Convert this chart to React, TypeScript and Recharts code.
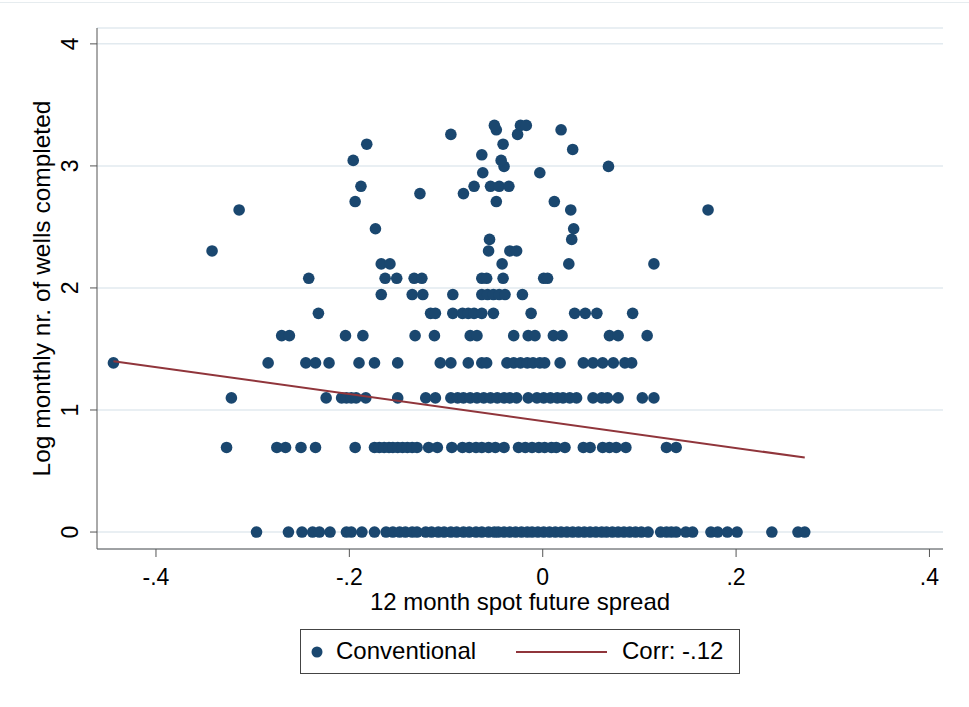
import { ScatterChart, Scatter, XAxis, YAxis, CartesianGrid } from 'recharts';

// log monthly nr. of wells completed (ln of the count) for each row of dots
const logLevels = [
  0, 0.693, 1.099, 1.386, 1.609, 1.792, 1.946, 2.079, 2.197, 2.303, 2.398, 2.485,
  2.639, 2.708, 2.773, 2.833, 2.944, 2.996, 3.045, 3.091, 3.135, 3.178, 3.258, 3.296, 3.332,
];

// 12 month spot future spread of each observation, one array per row above
const spread1 = [
  -0.296, -0.263, -0.249, -0.238, -0.231, -0.22, -0.203, -0.198, -0.187, -0.174, -0.162, -0.155,
  -0.148, -0.142, -0.135, -0.13, -0.121, -0.115, -0.108, -0.102, -0.095, -0.089, -0.082, -0.076,
  -0.069, -0.063, -0.056, -0.05, -0.046, -0.04, -0.034, -0.028, -0.022, -0.016, -0.011, -0.005,
  0.001, 0.007, 0.013, 0.019, 0.025, 0.031, 0.037, 0.043, 0.049, 0.055, 0.061, 0.066, 0.072,
  0.078, 0.084, 0.09, 0.096, 0.102, 0.109, 0.122, 0.128, 0.133, 0.138, 0.148, 0.155, 0.174,
  0.181, 0.191, 0.201, 0.237, 0.264, 0.271,
];
const spread2 = [
  -0.327, -0.275, -0.266, -0.25, -0.235, -0.194, -0.174, -0.169, -0.164, -0.159, -0.155, -0.15,
  -0.145, -0.14, -0.135, -0.13, -0.118, -0.109, -0.094, -0.083, -0.076, -0.069, -0.063, -0.056,
  -0.049, -0.04, -0.025, -0.018, -0.011, -0.004, 0.002, 0.009, 0.014, 0.023, 0.042, 0.049,
  0.062, 0.069, 0.076, 0.086, 0.128, 0.138,
];
const spread3 = [
  -0.322, -0.224, -0.208, -0.203, -0.198, -0.193, -0.183, -0.15, -0.121, -0.111, -0.095, -0.088,
  -0.082, -0.075, -0.068, -0.061, -0.054, -0.047, -0.04, -0.034, -0.027, -0.015, -0.006, 0.001,
  0.008, 0.015, 0.021, 0.028, 0.035, 0.052, 0.061, 0.067, 0.078, 0.103, 0.115,
];
const spread4 = [
  -0.444, -0.284, -0.245, -0.235, -0.221, -0.19, -0.174, -0.15, -0.106, -0.095, -0.077, -0.063,
  -0.058, -0.037, -0.03, -0.023, -0.016, -0.01, -0.003, 0.002, 0.018, 0.042, 0.052, 0.062,
  0.073, 0.085, 0.092,
];
const spread5 = [
  -0.27, -0.262, -0.204, -0.186, -0.132, -0.112, -0.075, -0.068, -0.03, -0.015, -0.008, 0.011,
  0.02, 0.069, 0.078, 0.108,
];
const spread6 = [
  -0.232, -0.116, -0.111, -0.093, -0.083, -0.077, -0.071, -0.063, -0.051, -0.012, 0.033, 0.044,
  0.056, 0.093,
];
const spread7 = [-0.167, -0.135, -0.124, -0.093, -0.063, -0.057, -0.051, -0.045, -0.039, -0.021];
const spread8 = [-0.242, -0.163, -0.151, -0.133, -0.125, -0.063, -0.058, -0.041, 0.001, 0.005];
const spread9 = [-0.167, -0.158, -0.042, 0.027, 0.115];
const spread10 = [-0.342, -0.056, -0.034, -0.027];
const spread11 = [-0.055, 0.03];
const spread12 = [-0.173, 0.032];
const spread14 = [-0.314, 0.029, 0.171];
const spread15 = [-0.194, -0.048, 0.012];
const spread16 = [-0.127, -0.082];
const spread17 = [-0.188, -0.071, -0.054, -0.045, -0.035];
const spread19 = [-0.062, -0.003];
const spread20 = [-0.04, 0.068];
const spread21 = [-0.196, -0.043];
const spread22 = [-0.063];
const spread23 = [0.031];
const spread24 = [-0.182, -0.041];
const spread26 = [-0.095, -0.026];
const spread27 = [-0.048, 0.019];
const spread28 = [-0.05, -0.023, -0.017];

const spreadRows = [
  spread1, spread2, spread3, spread4, spread5, spread6, spread7, spread8, spread9, spread10,
  spread11, spread12, spread14, spread15, spread16, spread17, spread19, spread20, spread21,
  spread22, spread23, spread24, spread26, spread27, spread28,
];

// linear fit end points
const fitSpread = [-0.444, 0.271];
const fitLog = [1.4, 0.61];

const xTicks = [-0.4, -0.2, 0, 0.2, 0.4];
const yTicks = [0, 1, 2, 3, 4];

const points = spreadRows.flatMap((row, i) => row.map((x) => ({ x, y: logLevels[i] })));
const fitData = fitSpread.map((x, i) => ({ x, y: fitLog[i] }));

const NAVY = '#1a476f';
const MAROON = '#90353b';
const FONT = '"Liberation Sans", Arial, sans-serif';
const AXIS = '#555';

// stata style: -.4, .2, 0
const stataNum = (v: number) => {
  if (v === 0) return '0';
  return (v < 0 ? '-' : '') + String(Math.abs(v)).replace(/^0/, '');
};

const Dot = (props: any) => <circle cx={props.cx} cy={props.cy} r={5.8} fill={NAVY} />;

const RotatedTick = (props: any) => {
  const { x, y, payload } = props;
  return (
    <text
      transform={`translate(${x - 10}, ${y}) rotate(-90)`}
      textAnchor="middle"
      fontSize={23}
      fontFamily={FONT}
      fill="#000"
    >
      {payload.value}
    </text>
  );
};

export default function App() {
  return (
    <div style={{ position: 'relative', width: 969, height: 707, background: '#fff' }}>
      <style>{`body{margin:0}`}</style>
      <div style={{ position: 'absolute', left: 0, top: 2, width: 969, height: 1, background: '#e6ecef' }} />
      <ScatterChart width={969} height={707} margin={{ top: 28, right: 26, left: 0, bottom: 98 }}>
        <CartesianGrid vertical={false} stroke="#e2eaef" strokeWidth={1.5} />
        <XAxis
          type="number"
          dataKey="x"
          domain={[-0.461, 0.414]}
          ticks={xTicks}
          allowDataOverflow
          height={60}
          tickSize={8}
          tickMargin={12}
          tickFormatter={stataNum}
          tick={{ fontSize: 23, fontFamily: FONT, fill: '#000' }}
          axisLine={{ stroke: AXIS }}
          tickLine={{ stroke: AXIS }}
          label={({ viewBox }: any) => (
            <text
              x={viewBox.x + viewBox.width / 2}
              y={viewBox.y + 61}
              textAnchor="middle"
              fontSize={24}
              fontFamily={FONT}
              fill="#000"
            >
              12 month spot future spread
            </text>
          )}
        />
        <YAxis
          type="number"
          dataKey="y"
          domain={[-0.139, 4.13]}
          ticks={yTicks}
          allowDataOverflow
          width={97}
          tickSize={7}
          tick={<RotatedTick />}
          axisLine={{ stroke: AXIS }}
          tickLine={{ stroke: AXIS }}
          label={({ viewBox }: any) => (
            <text
              transform={`translate(${viewBox.x + 50}, ${viewBox.y + viewBox.height / 2}) rotate(-90)`}
              textAnchor="middle"
              fontSize={24.5}
              fontFamily={FONT}
              fill="#000"
            >
              Log monthly nr. of wells completed
            </text>
          )}
        />
        <Scatter data={points} shape={<Dot />} isAnimationActive={false} />
        <Scatter
          data={fitData}
          line={{ stroke: MAROON, strokeWidth: 2 }}
          lineType="joint"
          shape={() => <g />}
          isAnimationActive={false}
        />
      </ScatterChart>
      <div
        style={{
          position: 'absolute',
          left: 300,
          top: 629,
          width: 438,
          height: 43,
          border: '1px solid #444',
          fontFamily: FONT,
          fontSize: 24,
          color: '#000',
        }}
      >
        <svg width={438} height={43} style={{ position: 'absolute', left: 0, top: 0 }}>
          <circle cx={16} cy={22} r={5.5} fill={NAVY} />
          <line x1={215} x2={306} y1={22} y2={22} stroke={MAROON} strokeWidth={2} />
        </svg>
        <span style={{ position: 'absolute', left: 35, top: 8, lineHeight: '26px' }}>Conventional</span>
        <span style={{ position: 'absolute', left: 321, top: 8, lineHeight: '26px' }}>Corr: -.12</span>
      </div>
    </div>
  );
}
